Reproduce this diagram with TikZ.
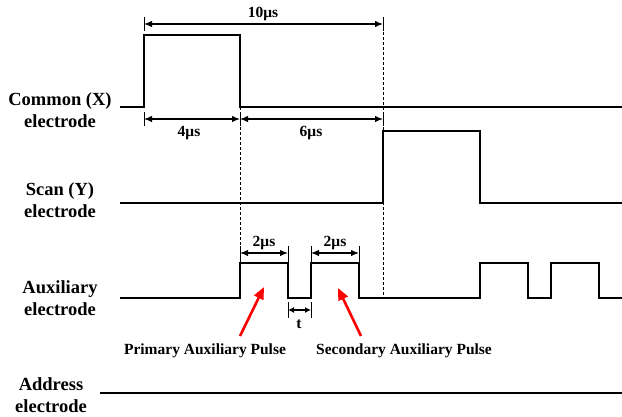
\documentclass[tikz,border=0pt]{standalone}
\usepackage{fontspec}
\setmainfont{Liberation Serif}
\usetikzlibrary{arrows.meta}
\begin{document}
\begin{tikzpicture}[x=1pt,y=-1pt,
 sig/.style={line width=2.6pt, line join=miter},
 dim/.style={line width=1.2pt, {Latex[length=8pt,width=6.5pt]}-{Latex[length=8pt,width=6.5pt]}},
 tickline/.style={line width=1pt},
 guide/.style={line width=0.9pt, dash pattern=on 3pt off 2pt},
 lab/.style={font=\bfseries\fontsize{18.5}{22}\selectfont, align=center, inner sep=0pt},
 dlab/.style={font=\bfseries\fontsize{15.5}{18}\selectfont, inner sep=0pt},
 redarr/.style={red, line width=2.6pt, -{Triangle[length=12pt,width=10pt]}}]
\useasboundingbox (0,0) rectangle (622,416);

% left labels
\node[lab] (lx) at (60,110) {Common (X)\\electrode};
\node[lab] (ly) at (60,200) {Scan (Y)\\electrode};
\node[lab] (la) at (60,298) {Auxiliary\\electrode};
\node[lab] (ld) at (51,395) {Address\\electrode};

% key coordinates
\coordinate (t0) at (144,0);
\coordinate (t4) at (240,0);
\coordinate (t10) at (383,0);

% guides
\draw[guide] (240,107) -- (240,263);
\draw[guide] (383,17) -- (383,298);

% signals
\draw[sig] (120,107) -- (144,107) -- (144,35) -- (240,35) -- (240,107) -- (622,107);
\draw[sig] (120,203) -- (383,203) -- (383,131) -- (480,131) -- (480,203) -- (622,203);
\draw[sig] (120,298) -- (240,298) -- (240,263) -- (288,263) -- (288,298) -- (311,298)
  -- (311,263) -- (359,263) -- (359,298) -- (480,298) -- (480,263) -- (528,263)
  -- (528,298) -- (551,298) -- (551,263) -- (599,263) -- (599,298) -- (622,298);
\draw[sig] (100,393) -- (622,393);

% 10 us
\coordinate (a1) at (144,24);
\coordinate (a2) at (383,24);
\draw[tickline] (144,17) -- (144,31);
\draw[tickline] (383,17) -- (383,31);
\draw[dim] (a1) -- (a2);
\node[dlab] (l10) at (263,14) {10μs};

% 4 us and 6 us
\coordinate (b1) at (144,119);
\coordinate (b2) at (240,119);
\coordinate (b3) at (383,119);
\draw[tickline] (144,112) -- (144,126);
\draw[tickline] (240,112) -- (240,126);
\draw[tickline] (383,112) -- (383,126);
\draw[dim] (b1) -- (b2);
\draw[dim] (b2) -- (b3);
\node[dlab] (l4) at (189,133) {4μs};
\node[dlab] (l6) at (311,133) {6μs};

% 2 us
\coordinate (c1) at (240,253);
\coordinate (c2) at (288,253);
\coordinate (c3) at (311,253);
\coordinate (c4) at (359,253);
\draw[tickline] (240,246) -- (240,263);
\draw[tickline] (288,246) -- (288,263);
\draw[tickline] (311,246) -- (311,263);
\draw[tickline] (359,246) -- (359,263);
\draw[dim] (c1) -- (c2);
\draw[dim] (c3) -- (c4);
\node[dlab] (l2a) at (264,243) {2μs};
\node[dlab] (l2b) at (335,243) {2μs};

% t
\coordinate (d1) at (288,310);
\coordinate (d2) at (311,310);
\draw[tickline] (288,302) -- (288,318);
\draw[tickline] (311,302) -- (311,318);
\draw[line width=1.2pt, {Latex[length=6pt,width=6pt]}-{Latex[length=6pt,width=6pt]}] (d1) -- (d2);
\node[dlab] (lt) at (299,324) {t};

% pulse labels and red arrows
\node[dlab] (pp) at (205,351) {Primary Auxiliary Pulse};
\node[dlab] (sp) at (404,351) {Secondary Auxiliary Pulse};
\coordinate (r1a) at (240,336);
\coordinate (r1b) at (264,287);
\coordinate (r2a) at (361,336);
\coordinate (r2b) at (338,288);
\draw[redarr] (r1a) -- (r1b);
\draw[redarr] (r2a) -- (r2b);
\end{tikzpicture}
\end{document}
